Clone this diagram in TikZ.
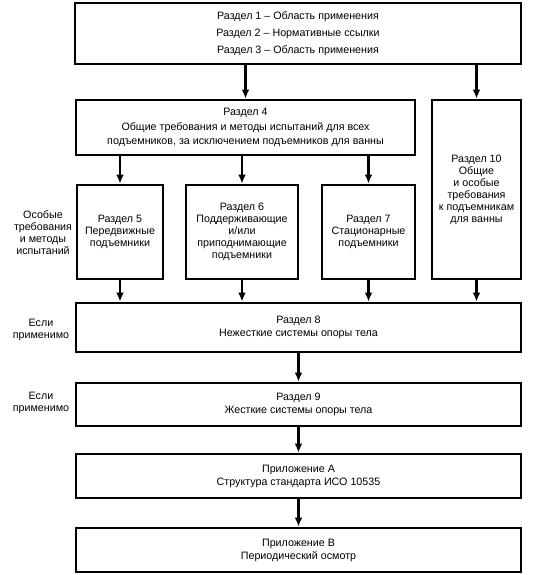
\documentclass[tikz,border=0pt]{standalone}
\usepackage{fontspec}
\setmainfont{Liberation Sans}
\usetikzlibrary{arrows.meta, positioning}

\begin{document}
\begin{tikzpicture}[
    x=1pt, y=-1pt,
    box/.style={draw, line width=2.6pt, align=center, inner sep=2pt,
                font=\fontsize{10.7}{12}\selectfont},
    side/.style={align=center, font=\fontsize{10.7}{12}\selectfont},
    arrow/.style={-{Latex[length=9pt, width=7.5pt]}, line width=2.4pt}
]
    \useasboundingbox (0,0) rectangle (549,575);

    \node[box, minimum width=446pt, minimum height=61pt,
          font=\fontsize{10.7}{17}\selectfont] (r13) at (298,33.5)
          {Раздел 1 -- Область применения\\Раздел 2 -- Нормативные ссылки\\Раздел 3 -- Область применения};
    \node[box, minimum width=339pt, minimum height=55pt,
          font=\fontsize{10.7}{14.5}\selectfont] (r4) at (245.5,127.5)
          {Раздел 4\\Общие требования и методы испытаний для всех\\подъемников, за исключением подъемников для ванны};
    \node[box, minimum width=89pt, minimum height=179pt] (r10) at (476.5,189.5)
          {Раздел 10\\Общие\\и особые\\требования\\к подъемникам\\для ванны};
    \node[box, minimum width=86pt, minimum height=94pt] (r5) at (120,232)
          {Раздел 5\\Передвижные\\подъемники};
    \node[box, minimum width=112pt, minimum height=94pt] (r6) at (242,232)
          {Раздел 6\\Поддерживающие\\и/или\\приподнимающие\\подъемники};
    \node[box, minimum width=93pt, minimum height=94pt] (r7) at (368.5,232)
          {Раздел 7\\Стационарные\\подъемники};
    \node[box, minimum width=445pt, minimum height=49pt,
          font=\fontsize{10.7}{13}\selectfont] (r8) at (298.5,327.5)
          {Раздел 8\\Нежесткие системы опоры тела};
    \node[box, minimum width=445pt, minimum height=43pt,
          font=\fontsize{10.7}{13}\selectfont] (r9) at (298.5,404.5)
          {Раздел 9\\Жесткие системы опоры тела};
    \node[box, minimum width=445pt, minimum height=44pt,
          font=\fontsize{10.7}{13}\selectfont] (pA) at (298.5,476)
          {Приложение А\\Структура стандарта ИСО 10535};
    \node[box, minimum width=445pt, minimum height=44pt,
          font=\fontsize{10.7}{13}\selectfont] (pB) at (298.5,550)
          {Приложение В\\Периодический осмотр};

    % side notes
    \node[side] (n57) at (43,232.5) {Особые\\требования\\и методы\\испытаний};
    \node[side] (n8) at (41,330) {Если\\применимо};
    \node[side] (n9) at (41,403) {Если\\применимо};

    \draw[arrow] (r4.north |- r13.south) -- (r4.north);
    \draw[arrow] (r10.north |- r13.south) -- (r10.north);
    \foreach \b in {r5, r6, r7}
        \draw[arrow] (\b.north |- r4.south) -- (\b.north);
    \foreach \b in {r5, r6, r7, r10}
        \draw[arrow] (\b.south) -- (\b.south |- r8.north);
    \draw[arrow] (r8.south) -- (r9.north);
    \draw[arrow] (r9.south) -- (pA.north);
    \draw[arrow] (pA.south) -- (pB.north);
\end{tikzpicture}
\end{document}
